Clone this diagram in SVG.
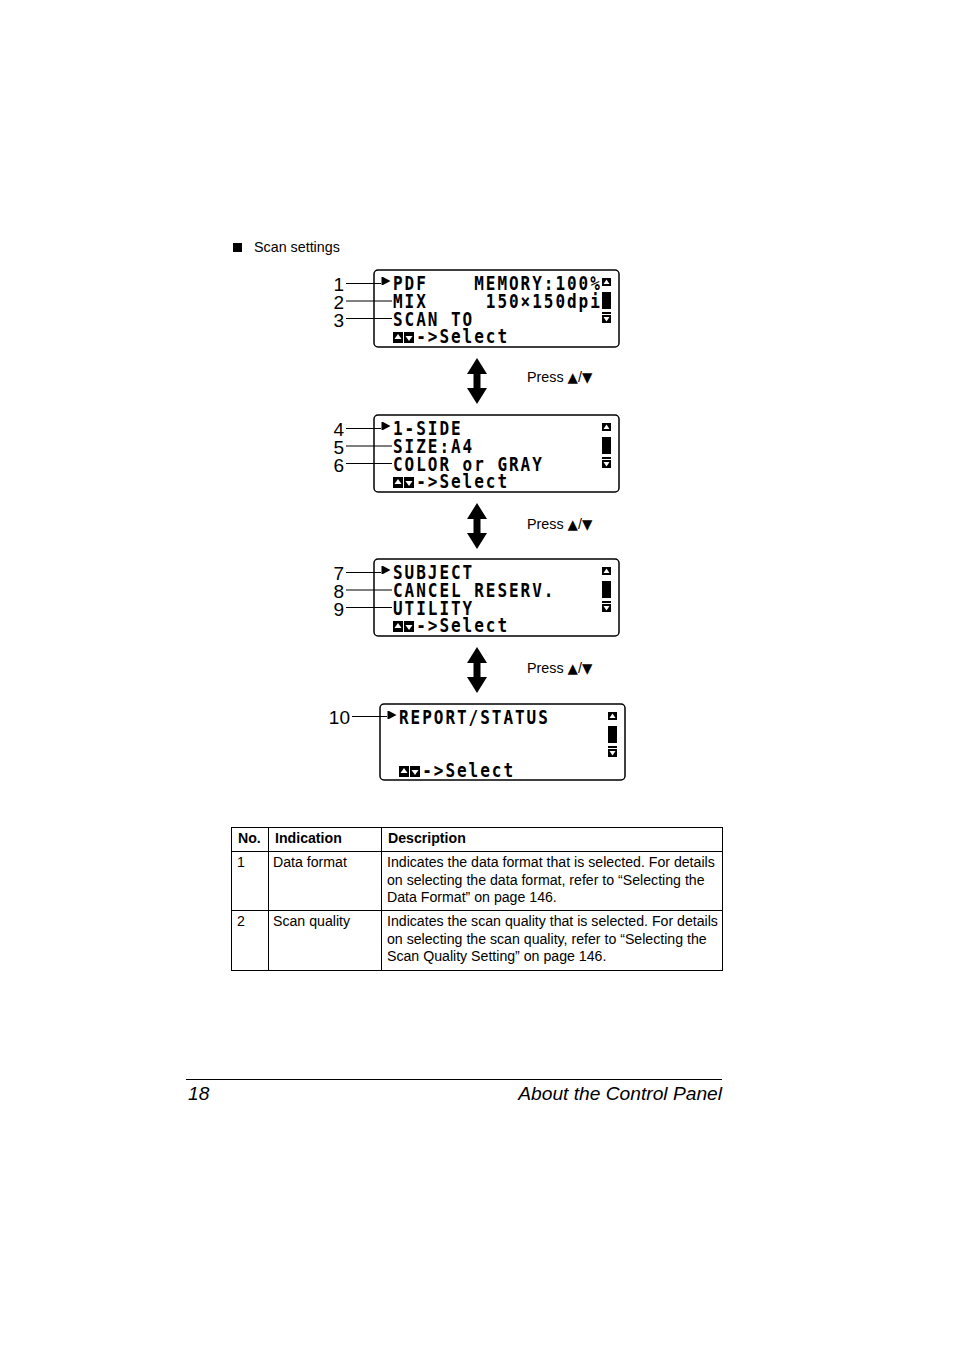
<svg xmlns="http://www.w3.org/2000/svg" xmlns:xlink="http://www.w3.org/1999/xlink" width="954" height="1350" viewBox="0 0 954 1350">
<style>
.lcd{font-family:"DejaVu Sans Mono",monospace;font-weight:bold;font-size:20px;letter-spacing:2.46px;fill:#000}
.lbl{font-family:"Liberation Sans",Arial,sans-serif;font-size:19px;fill:#000}
.txt{font-family:"Liberation Sans",Arial,sans-serif;font-size:14.3px;fill:#000}
.tt{font-size:14.15px}
.tri{font-family:"DejaVu Sans",sans-serif;font-size:13.5px}
.bold{font-weight:bold}
.foot{font-family:"Liberation Sans",Arial,sans-serif;font-size:19.2px;font-style:italic;fill:#000}
.panel{fill:#fff;stroke:#000;stroke-width:1.5}
.lead{stroke:#000;stroke-width:1.2;fill:none}
.tb{stroke:#000;stroke-width:1;fill:none}
</style>
<defs>
<g id="sb">
<rect x="0" y="0" width="9" height="8" fill="#000"/>
<polygon points="4.5,1.5 7.5,6 1.5,6" fill="#fff"/>
<rect x="0" y="14" width="9" height="17" fill="#000"/>
<rect x="0" y="34" width="9" height="2" fill="#000"/>
<rect x="0" y="37" width="9" height="8" fill="#000"/>
<polygon points="1.5,39 7.5,39 4.5,43.5" fill="#fff"/>
</g>
<g id="ptr">
<rect x="0" y="0" width="1.5" height="8" fill="#000"/>
<polygon points="1.5,0 9,4 1.5,8" fill="#000"/>
</g>
<g id="keys">
<rect x="0" y="0" width="10" height="11" fill="#000"/>
<polygon points="5,2 8.5,7 1.5,7" fill="#fff"/>
<rect x="11" y="0" width="10" height="11" fill="#000"/>
<polygon points="12.5,4 19.5,4 16,9" fill="#fff"/>
</g>
<polygon id="dbl" points="0,0 10,16 3.5,16 3.5,30 10,30 0,46 -10,30 -3.5,30 -3.5,16 -10,16" fill="#000"/>
</defs>

<g id="heading">
<rect x="233" y="243" width="9" height="9" fill="#000"/>
<text class="txt" x="254" y="252">Scan settings</text>
</g>

<g id="panel1">
<rect class="panel" x="374" y="270" width="245" height="77" rx="4"/>
<use xlink:href="#ptr" x="381.5" y="277"/>
<g transform="translate(393 0) scale(0.8 1)">
<text class="lcd" x="0" y="290.5" xml:space="preserve">PDF    MEMORY:100%</text>
<text class="lcd" x="0" y="308.5" xml:space="preserve">MIX     150×150dpi</text>
<text class="lcd" x="0" y="326.5" xml:space="preserve">SCAN TO</text>
<text class="lcd" x="29" y="343.5">-&gt;Select</text>
</g>
<use xlink:href="#keys" x="393" y="332"/>
<use xlink:href="#sb" x="602" y="278"/>
</g>

<g id="panel2">
<rect class="panel" x="374" y="415" width="245" height="77" rx="4"/>
<use xlink:href="#ptr" x="381.5" y="422"/>
<g transform="translate(393 0) scale(0.8 1)">
<text class="lcd" x="0" y="435.5">1-SIDE</text>
<text class="lcd" x="0" y="453.5">SIZE:A4</text>
<text class="lcd" x="0" y="471.5" xml:space="preserve">COLOR or GRAY</text>
<text class="lcd" x="29" y="488.5">-&gt;Select</text>
</g>
<use xlink:href="#keys" x="393" y="477"/>
<use xlink:href="#sb" x="602" y="423"/>
</g>

<g id="panel3">
<rect class="panel" x="374" y="559" width="245" height="77" rx="4"/>
<use xlink:href="#ptr" x="381.5" y="566"/>
<g transform="translate(393 0) scale(0.8 1)">
<text class="lcd" x="0" y="579.5">SUBJECT</text>
<text class="lcd" x="0" y="597.5" xml:space="preserve">CANCEL RESERV.</text>
<text class="lcd" x="0" y="615.5">UTILITY</text>
<text class="lcd" x="29" y="632.5">-&gt;Select</text>
</g>
<use xlink:href="#keys" x="393" y="621"/>
<use xlink:href="#sb" x="602" y="567"/>
</g>

<g id="panel4">
<rect class="panel" x="380" y="704" width="245" height="76" rx="4"/>
<use xlink:href="#ptr" x="387.5" y="711"/>
<g transform="translate(399 0) scale(0.8 1)">
<text class="lcd" x="0" y="724">REPORT/STATUS</text>
<text class="lcd" x="29" y="777">-&gt;Select</text>
</g>
<use xlink:href="#keys" x="399" y="766"/>
<use xlink:href="#sb" x="608" y="712"/>
</g>

<g id="labels">
<text class="lbl" x="344" y="291" text-anchor="end">1</text>
<text class="lbl" x="344" y="309" text-anchor="end">2</text>
<text class="lbl" x="344" y="326.5" text-anchor="end">3</text>
<text class="lbl" x="344" y="436" text-anchor="end">4</text>
<text class="lbl" x="344" y="454" text-anchor="end">5</text>
<text class="lbl" x="344" y="471.5" text-anchor="end">6</text>
<text class="lbl" x="344" y="580" text-anchor="end">7</text>
<text class="lbl" x="344" y="598" text-anchor="end">8</text>
<text class="lbl" x="344" y="615.5" text-anchor="end">9</text>
<text class="lbl" x="350" y="724" text-anchor="end">10</text>
</g>

<g id="connectors">
<path class="lead" d="M346 283.5H381 M346 301H392 M346 318.5H392"/>
<path class="lead" d="M346 428.5H381 M346 446H392 M346 463.5H392"/>
<path class="lead" d="M346 572.5H381 M346 590H392 M346 607.5H392"/>
<path class="lead" d="M352 716.5H387"/>
<use xlink:href="#dbl" x="477" y="358"/>
<use xlink:href="#dbl" x="477" y="503"/>
<use xlink:href="#dbl" x="477" y="647"/>
</g>

<g id="press">
<text class="txt" x="527" y="382">Press <tspan class="tri">▲</tspan>/<tspan class="tri">▼</tspan></text>
<text class="txt" x="527" y="529">Press <tspan class="tri">▲</tspan>/<tspan class="tri">▼</tspan></text>
<text class="txt" x="527" y="673">Press <tspan class="tri">▲</tspan>/<tspan class="tri">▼</tspan></text>
</g>

<g id="table">
<rect class="tb" x="231.5" y="827.5" width="491" height="143"/>
<path class="tb" d="M231.5 851.5H722.5 M231.5 910.5H722.5 M268.5 827.5V970.5 M381.5 827.5V970.5"/>
<text class="txt tt bold" x="238" y="843">No.</text>
<text class="txt tt bold" x="275" y="843">Indication</text>
<text class="txt tt bold" x="388" y="843">Description</text>
<text class="txt tt" x="237" y="867">1</text>
<text class="txt tt" x="273" y="867">Data format</text>
<text class="txt tt" x="387" y="867">Indicates the data format that is selected. For details</text>
<text class="txt tt" x="387" y="885">on selecting the data format, refer to “Selecting the</text>
<text class="txt tt" x="387" y="902">Data Format” on page 146.</text>
<text class="txt tt" x="237" y="926">2</text>
<text class="txt tt" x="273" y="926">Scan quality</text>
<text class="txt tt" x="387" y="926">Indicates the scan quality that is selected. For details</text>
<text class="txt tt" x="387" y="944">on selecting the scan quality, refer to “Selecting the</text>
<text class="txt tt" x="387" y="961">Scan Quality Setting” on page 146.</text>
</g>

<g id="footer">
<path d="M186 1079.5H722" stroke="#000" stroke-width="1"/>
<text class="foot" x="188" y="1100">18</text>
<text class="foot" x="722" y="1100" text-anchor="end">About the Control Panel</text>
</g>
</svg>
